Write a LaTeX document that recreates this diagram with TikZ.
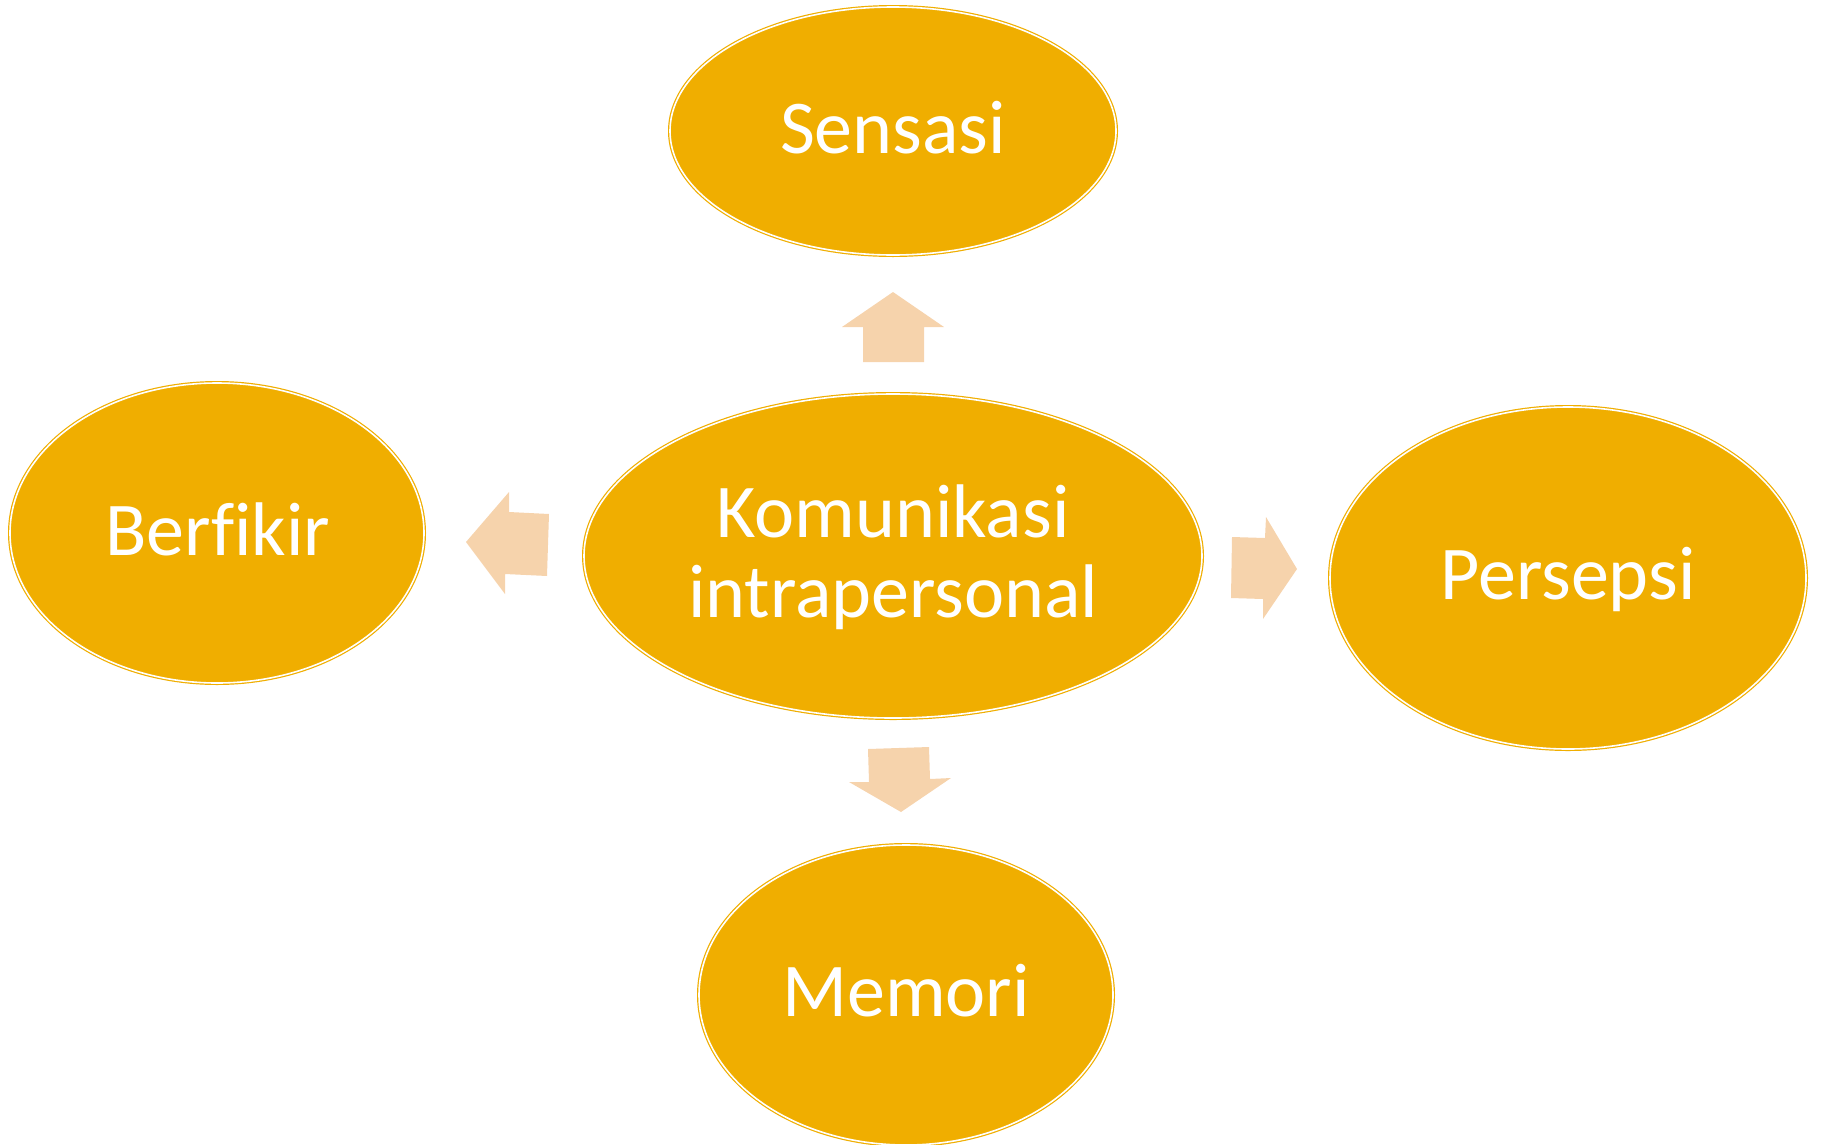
\documentclass[tikz,border=0pt]{standalone}
\usepackage{fontspec}
\setmainfont{Carlito}[Ligatures=NoCommon]
\usetikzlibrary{shapes.geometric}
\definecolor{gold}{HTML}{F0AE00}
\definecolor{peach}{HTML}{F6D3AC}
\tikzset{
  bubble/.style={ellipse, fill=gold, draw=gold, double=white, line width=1.2pt, double distance=1.6pt, inner sep=0pt},
  lbl/.style={text=white, font=\fontsize{76}{80}\selectfont, anchor=base, inner sep=0pt},
  blockarrow/.style={fill=peach, draw=none}
}
\begin{document}
\begin{tikzpicture}[x=1pt,y=-1pt]
\useasboundingbox (0,0) rectangle (1821,1144);
% ellipses
\node[bubble, minimum width=446pt, minimum height=248pt] (sen) at (893,131) {};
\node[bubble, minimum width=414pt, minimum height=300pt] (ber) at (217,533) {};
\node[bubble, minimum width=618pt, minimum height=324pt] (kom) at (893,556) {};
\node[bubble, minimum width=476pt, minimum height=342pt] (per) at (1568,578) {};
\node[bubble, minimum width=414pt, minimum height=300pt] (mem) at (906,995) {};
% labels
\node[lbl] (tsen) at (893,153) {Sensasi};
\node[lbl] (tber) at (218,555) {Berfikir};
\node[lbl] (tkom1) at (893,537) {Komunikasi};
\node[lbl] (tkom2) at (893,617) {intrapersonal};
\node[lbl] (tper) at (1568,599) {Persepsi};
\node[lbl] (tmem) at (906,1016) {Memori};
% block arrows
\fill[blockarrow] (893,292) -- (944,327) -- (924,327) -- (924,362) -- (863,362) -- (863,327) -- (842,327) -- cycle;
\fill[blockarrow] (466,542) -- (509,492) -- (509,512) -- (549,514) -- (547,576) -- (505,574) -- (505,594) -- cycle;
\fill[blockarrow] (1297,569) -- (1263,619) -- (1263,599) -- (1231,598) -- (1232,537) -- (1265,538) -- (1266,517) -- cycle;
\fill[blockarrow] (901,812) -- (849,782) -- (869,782) -- (868,749) -- (929,747) -- (930,779) -- (951,778) -- cycle;
\end{tikzpicture}
\end{document}
